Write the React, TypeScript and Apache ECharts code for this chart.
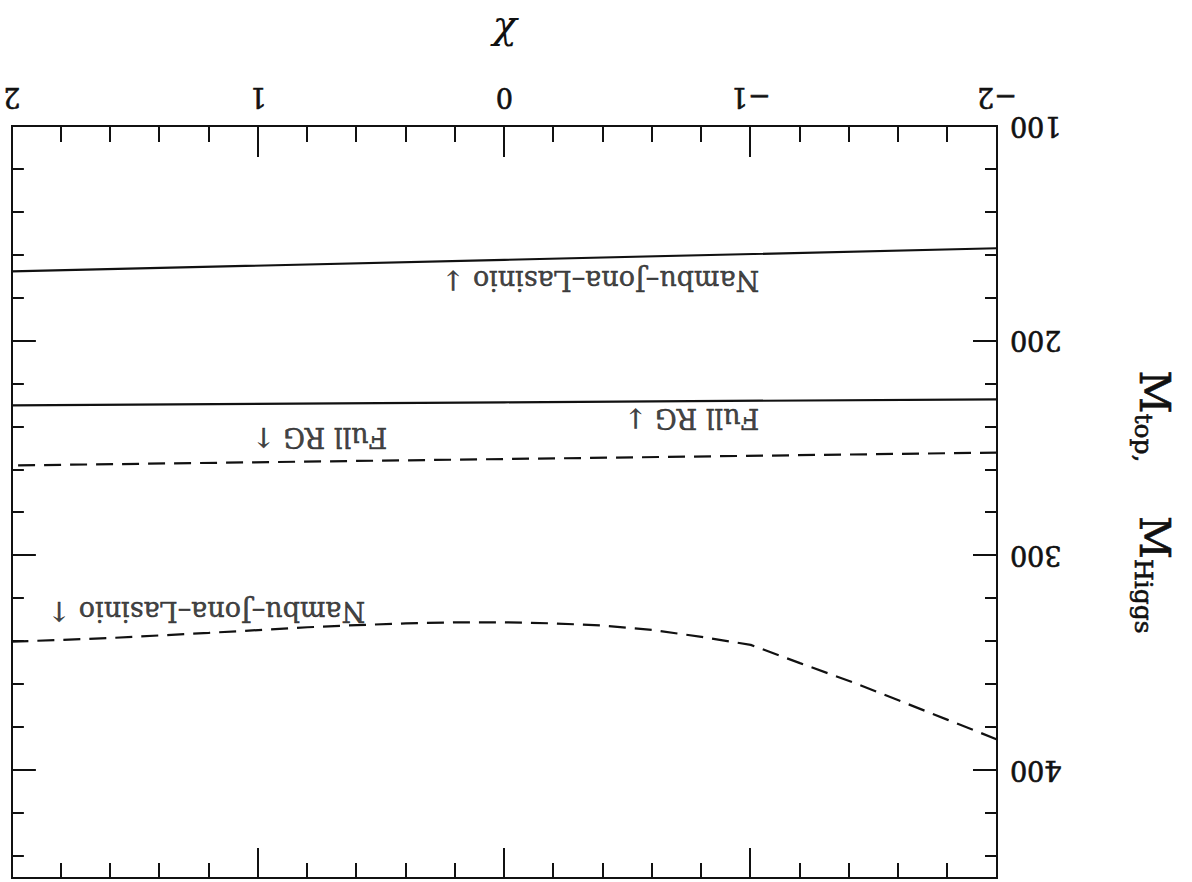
import React, { useEffect, useRef } from "react";
import * as echarts from "echarts";

// Axis ranges and tick labels
const chiRange = [-2, 2];
const massRange = [100, 450];
const chiTicks = [-2, -1, 0, 1, 2];
const massTicks = [100, 200, 300, 400];

// Top-quark mass, Nambu–Jona–Lasinio (solid)
const njlTopChi = [-2, 0, 2];
const njlTopMass = [156.9, 162.3, 167.7];

// Top-quark mass, full RG (solid)
const rgTopChi = [-2, 0, 2];
const rgTopMass = [227.2, 228.6, 230.0];

// Higgs mass, full RG (dashed)
const rgHiggsChi = [-2, 0, 2];
const rgHiggsMass = [252.0, 255.0, 258.0];

// Higgs mass, Nambu–Jona–Lasinio (dashed)
const njlHiggsChi = [-2, -1.8, -1.6, -1.4, -1.2, -1.0, -0.8, -0.6, -0.4, -0.2, 0, 0.2, 0.4, 0.6, 0.8, 1.0, 1.2, 1.4, 1.6, 1.8, 2.0];
const njlHiggsMass = [385.5, 376.4, 367.3, 358.3, 350.0, 341.5, 337.8, 334.5, 332.5, 331.5, 331.0, 331.0, 331.5, 332.3, 333.3, 334.6, 335.9, 337.1, 338.3, 339.2, 340.0];

// Annotations
const noteTexts = ["Nambu–Jona–Lasinio ↓", "Full RG ↓", "Full RG ↑", "Nambu–Jona–Lasinio ↑"];
const noteChi = [-0.39, -0.76, 0.75, 1.21];
const noteMass = [172, 236, 245, 326];

const FONT = "DejaVu Serif";
const INK = "#111";

function zip(xs: number[], ys: number[]) {
  return xs.map((x, i) => [x, ys[i]]);
}

export default function App() {
  const ref = useRef<HTMLDivElement>(null);

  useEffect(() => {
    if (!ref.current) return;
    const chart = echarts.init(ref.current, null, { renderer: "svg" });

    const axisLine = { show: true, onZero: false, lineStyle: { color: INK, width: 2 } };
    const heavy = { textBorderColor: INK, textBorderWidth: 0.6 };

    const xAxisBase = (pos: "bottom" | "top", labels: boolean, major: number, minor: number) => ({
      type: "value",
      position: pos,
      min: chiRange[0],
      max: chiRange[1],
      interval: 1,
      axisLine,
      axisTick: { show: true, inside: true, length: major, lineStyle: { color: INK, width: 2 } },
      minorTick: { show: true, splitNumber: 5, length: minor, lineStyle: { color: INK, width: 2 } },
      splitLine: { show: false },
      minorSplitLine: { show: false },
      axisLabel: {
        show: labels,
        margin: 15,
        fontFamily: FONT,
        fontSize: 27,
        color: INK,
        ...heavy,
        formatter: (v: number) => (chiTicks.includes(v) ? (v < 0 ? "−" + Math.abs(v) : String(v)) : ""),
      },
    });

    const yAxisBase = (pos: "left" | "right", labels: boolean, interval: number, len: number) => ({
      type: "value",
      position: pos,
      min: massRange[0],
      max: massRange[1],
      interval,
      axisLine,
      axisTick: { show: true, inside: true, length: len, lineStyle: { color: INK, width: 2 } },
      splitLine: { show: false },
      axisLabel: {
        show: labels,
        margin: 13,
        fontFamily: FONT,
        fontSize: 27,
        color: INK,
        ...heavy,
        formatter: (v: number) => (massTicks.includes(v) ? String(v) : ""),
      },
    });

    const yMain: any = yAxisBase("left", true, 100, 24);
    yMain.name = "{M|M}{s|top,}{M|    M}{s|Higgs}";
    yMain.nameLocation = "middle";
    yMain.nameRotate = 90;
    yMain.nameGap = 134;
    yMain.nameTextStyle = {
      fontFamily: FONT,
      color: INK,
      rich: {
        M: { fontFamily: FONT, fontSize: 42, lineHeight: 46, color: INK, ...heavy },
        s: { fontFamily: FONT, fontSize: 25, lineHeight: 14, verticalAlign: "bottom", color: INK, ...heavy },
      },
    };

    const xMain: any = xAxisBase("bottom", true, 31, 16);
    xMain.name = "χ";
    xMain.nameLocation = "middle";
    xMain.nameGap = 66;
    xMain.nameTextStyle = { fontFamily: FONT, fontSize: 40, fontStyle: "italic", color: INK };

    const lineSeries = (name: string, data: number[][], dashed: boolean) => ({
      type: "line",
      name,
      data,
      xAxisIndex: 0,
      yAxisIndex: 0,
      symbol: "none",
      smooth: false,
      silent: true,
      lineStyle: { color: INK, width: 2.2, type: dashed ? [17, 9] : "solid" },
    });

    chart.setOption({
      animation: false,
      backgroundColor: "#fff",
      grid: { left: 195, right: 10, top: 4, bottom: 126, containLabel: false },
      xAxis: [xMain, xAxisBase("top", false, 30, 15)],
      yAxis: [
        yMain,
        yAxisBase("left", false, 20, 12),
        yAxisBase("right", false, 100, 24),
        yAxisBase("right", false, 20, 12),
      ],
      series: [
        lineSeries("NJL top", zip(njlTopChi, njlTopMass), false),
        lineSeries("RG top", zip(rgTopChi, rgTopMass), false),
        lineSeries("RG Higgs", zip(rgHiggsChi, rgHiggsMass), true),
        lineSeries("NJL Higgs", zip(njlHiggsChi, njlHiggsMass), true),
        {
          type: "scatter",
          silent: true,
          symbolSize: 1,
          itemStyle: { color: "rgba(0,0,0,0)" },
          label: {
            show: true,
            position: "inside",
            formatter: "{b}",
            fontFamily: FONT,
            fontSize: 27,
            color: INK,
            textBorderColor: INK,
            textBorderWidth: 0.5,
          },
          data: noteTexts.map((t, i) => ({ name: t, value: [noteChi[i], noteMass[i]] })),
        },
      ],
    });

    return () => chart.dispose();
  }, []);

  return (
    <div
      ref={ref}
      style={{
        position: "absolute",
        left: 0,
        top: 0,
        width: 1192,
        height: 882,
        background: "#fff",
        transform: "rotate(180deg)",
      }}
    />
  );
}
